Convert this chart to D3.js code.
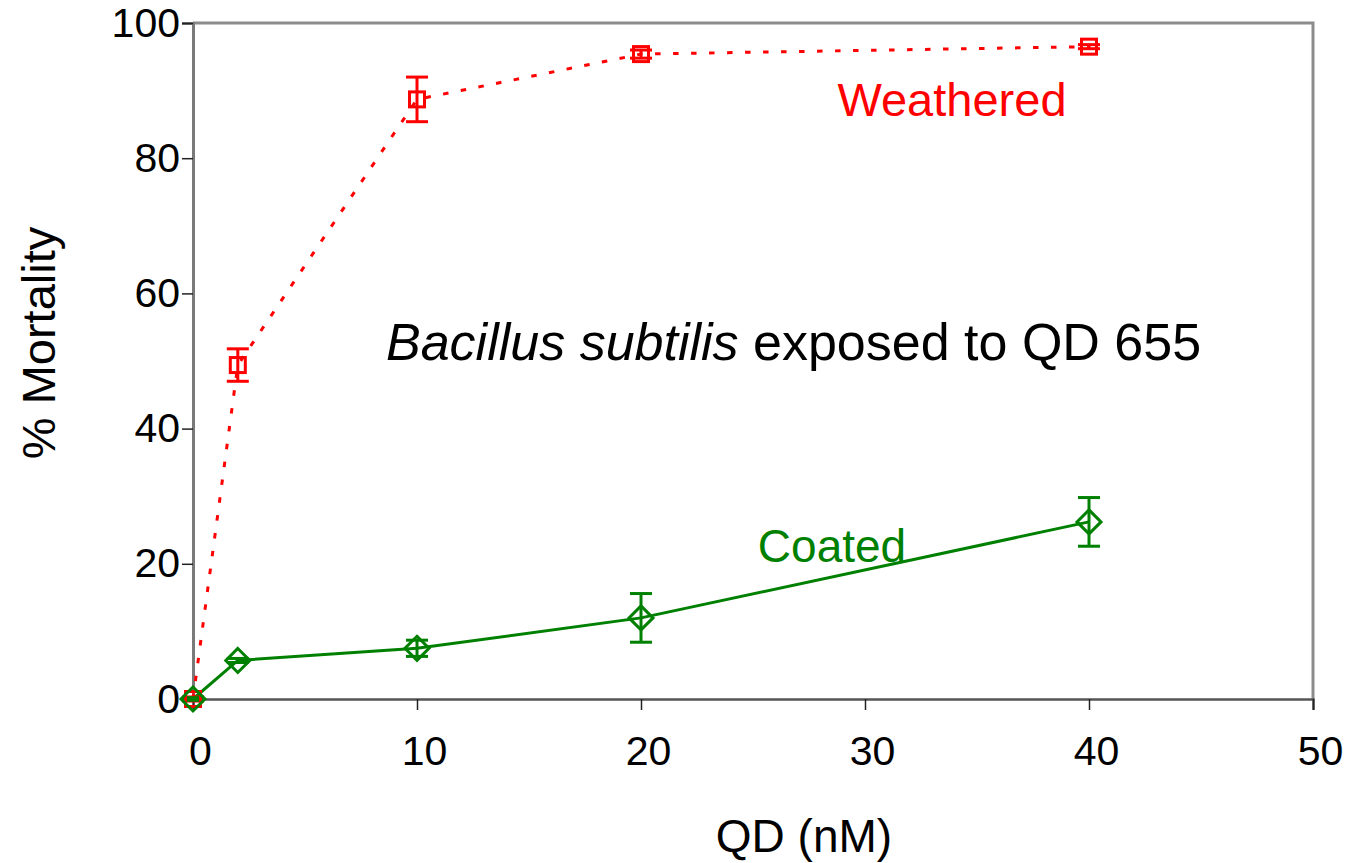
<!DOCTYPE html>
<html>
<head>
<meta charset="utf-8">
<script src="https://cdn.jsdelivr.net/npm/d3@7"></script>
<style>
  body { margin: 0; background: #fff; }
  svg { display: block; font-family: Arial, "Liberation Sans", sans-serif; }
</style>
</head>
<body>
<div id="chart"></div>
<script>
// concentrations (nM)
var qd = [0, 2, 10, 20, 40];
var weathered = [0, 49.4, 88.7, 95.4, 96.5];
var weatheredErr = [0.3, 2.4, 3.3, 0.6, 0.3];
var coated = [0, 5.7, 7.5, 12.0, 26.2];
var coatedErr = [0.2, 0.3, 1.2, 3.6, 3.6];
var xTicks = [0, 10, 20, 30, 40, 50];
var yTicks = [0, 20, 40, 60, 80, 100];

var fullWidth = 1348, fullHeight = 863;
var margin = {top: 23, right: 35, bottom: 164, left: 193};
var width = fullWidth - margin.left - margin.right;
var height = fullHeight - margin.top - margin.bottom;

var xScale = d3.scaleLinear().domain([0, 50]).range([0, width]);
var yScale = d3.scaleLinear().domain([0, 100]).range([height, 0]);

var svg = d3.select("#chart").append("svg")
  .attr("width", fullWidth).attr("height", fullHeight);
var g = svg.append("g").attr("transform", "translate(" + margin.left + "," + margin.top + ")");

// frame (top/right)
g.append("path")
  .attr("d", "M0,0H" + width + "V" + height)
  .attr("fill", "none").attr("stroke", "#8c8c8c").attr("stroke-width", 3);

// axes
var xAxis = d3.axisBottom(xScale).tickValues(xTicks).tickSize(11).tickPadding(26);
var yAxis = d3.axisLeft(yScale).tickValues(yTicks).tickSize(11).tickPadding(2);

var gx = g.append("g").attr("transform", "translate(0," + height + ")").call(xAxis);
gx.select(".domain").attr("stroke", "#555").attr("stroke-width", 2.5);
gx.selectAll(".tick line").attr("stroke", "#222").attr("stroke-width", 1.5);
gx.selectAll(".tick text").attr("font-size", 41).attr("fill", "#000").attr("dx", 7).attr("dy", "0.71em");

var gy = g.append("g").call(yAxis);
gy.select(".domain").attr("stroke", "#7a7a7a").attr("stroke-width", 3);
gy.selectAll(".tick line").attr("stroke", "#222").attr("stroke-width", 1.5);
gy.selectAll(".tick text").attr("font-size", 41).attr("fill", "#000");

// axis titles
svg.append("text").attr("x", 804).attr("y", 852).attr("text-anchor", "middle")
  .attr("font-size", 46).text("QD (nM)");
svg.append("text").attr("transform", "translate(55,343) rotate(-90)")
  .attr("text-anchor", "middle").attr("font-size", 47).text("% Mortality");

var red = "#ff0000", green = "#008000";
var wData = qd.map(function(d, i){ return {x: d, y: weathered[i], e: weatheredErr[i]}; });
var cData = qd.map(function(d, i){ return {x: d, y: coated[i], e: coatedErr[i]}; });

var line = d3.line()
  .x(function(d){ return xScale(d.x); })
  .y(function(d){ return yScale(d.y); });

// weathered: dotted line
g.append("path").datum(wData).attr("d", line)
  .attr("fill", "none").attr("stroke", red).attr("stroke-width", 3)
  .attr("stroke-dasharray", "5.5,12.5");

// coated: solid line
g.append("path").datum(cData).attr("d", line)
  .attr("fill", "none").attr("stroke", green).attr("stroke-width", 3);

function errorBars(data, color){
  var eb = g.append("g").attr("stroke", color).attr("stroke-width", 3);
  data.forEach(function(d){
    var cx = xScale(d.x);
    var y1 = yScale(d.y + d.e), y2 = yScale(d.y - d.e);
    eb.append("line").attr("x1", cx).attr("x2", cx).attr("y1", y1).attr("y2", y2);
    eb.append("line").attr("x1", cx - 11).attr("x2", cx + 11).attr("y1", y1).attr("y2", y1);
    eb.append("line").attr("x1", cx - 11).attr("x2", cx + 11).attr("y1", y2).attr("y2", y2);
  });
}
errorBars(wData, red);
errorBars(cData, green);

// markers
g.selectAll(".sq").data(wData).enter().append("rect")
  .attr("x", function(d){ return xScale(d.x) - 7.5; })
  .attr("y", function(d){ return yScale(d.y) - 7.5; })
  .attr("width", 15).attr("height", 15)
  .attr("fill", "none").attr("stroke", red).attr("stroke-width", 3);

g.selectAll(".dm").data(cData).enter().append("path")
  .attr("transform", function(d){ return "translate(" + xScale(d.x) + "," + yScale(d.y) + ")"; })
  .attr("d", "M0,-12L12,0L0,12L-12,0Z")
  .attr("fill", "none").attr("stroke", green).attr("stroke-width", 3);

// labels
svg.append("text").attr("x", 952).attr("y", 116).attr("text-anchor", "middle")
  .attr("font-size", 47).attr("fill", red).text("Weathered");
svg.append("text").attr("x", 832).attr("y", 562).attr("text-anchor", "middle")
  .attr("font-size", 46).attr("fill", green).text("Coated");
var note = svg.append("text").attr("x", 386).attr("y", 360).attr("font-size", 52).attr("fill", "#000");
note.append("tspan").attr("font-style", "italic").text("Bacillus subtilis");
note.append("tspan").text(" exposed to QD 655");
</script>
</body>
</html>
